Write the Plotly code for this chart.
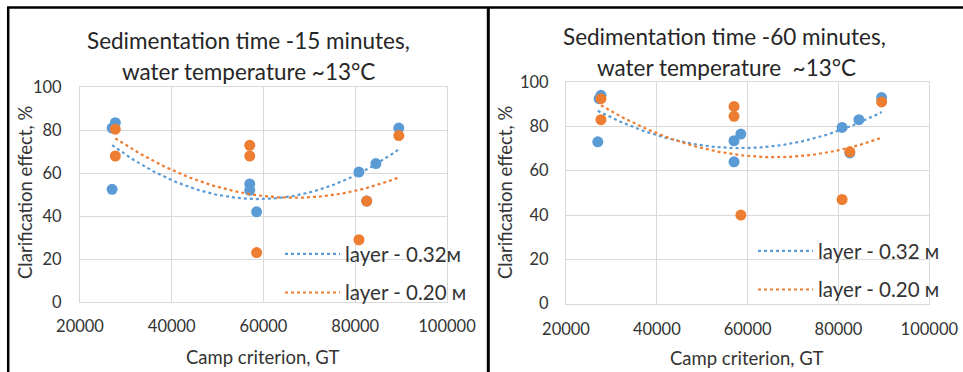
import numpy as np
import plotly.graph_objects as go

# ---- data ----
# Left panel: sedimentation 15 min
l_blue_x = [27000, 27000, 27700, 57000, 57000, 58500, 80800, 82500, 84500, 89500]
l_blue_y = [52.5, 81, 83.5, 55, 52, 42, 60.5, 47, 64.5, 81]
l_orange_x = [27700, 27700, 57000, 57000, 58500, 80800, 82500, 89500]
l_orange_y = [80.5, 68, 73, 68, 23, 29, 47, 77.5]
# Right panel: sedimentation 60 min
r_blue_x = [27000, 27300, 27700, 57000, 57000, 58500, 80800, 82500, 84500, 89500]
r_blue_y = [73, 92.5, 94, 73.5, 64, 76.5, 79.5, 68, 83, 93]
r_orange_x = [27700, 27700, 57000, 57000, 58500, 80800, 82500, 89500]
r_orange_y = [92.5, 83, 89, 84.5, 40, 47, 68.5, 91]

titles_left = ["Sedimentation time -15 minutes,", "water temperature ~13°C"]
titles_right = ["Sedimentation time -60 minutes,", "water temperature  ~13°C"]
legend_left = ["layer - 0.32м", "layer - 0.20 м"]
legend_right = ["layer - 0.32 м", "layer - 0.20 м"]
x_title = "Camp criterion, GT"
y_title = "Clarification effect, %"
x_ticks = [20000, 40000, 60000, 80000, 100000]
x_tick_text = ["20000", "40000", "60000", "80000", "100000"]
y_ticks = [0, 20, 40, 60, 80, 100]

BLUE = "#5B9BD5"
ORANGE = "#ED7D31"
FONT = "Lato"
W, H = 963, 372

fig = go.Figure()


def trend(x, y):
    c = np.polyfit(x, y, 2)
    xs = np.linspace(min(x), max(x), 120)
    return xs, np.polyval(c, xs)


panels = [
    ("x", "y", "legend", l_blue_x, l_blue_y, l_orange_x, l_orange_y, legend_left),
    ("x2", "y2", "legend2", r_blue_x, r_blue_y, r_orange_x, r_orange_y, legend_right),
]
for xa, ya, lg, bx, by, ox, oy, names in panels:
    for xx, yy, col in [(bx, by, BLUE), (ox, oy, ORANGE)]:
        fig.add_trace(go.Scatter(x=xx, y=yy, mode="markers", xaxis=xa, yaxis=ya,
                                 marker=dict(color=col, size=11), showlegend=False,
                                 hoverinfo="skip"))
    for i, (xx, yy, col) in enumerate([(bx, by, BLUE), (ox, oy, ORANGE)]):
        tx, ty = trend(xx, yy)
        fig.add_trace(go.Scatter(x=tx, y=ty, mode="lines", xaxis=xa, yaxis=ya,
                                 line=dict(color=col, width=2.2, dash="dot"),
                                 name=names[i], legend=lg, legendgroup=f"{lg}{i}",
                                 showlegend=True))

axis_common = dict(showgrid=True, gridcolor="#D9D9D9", gridwidth=1,
                   showline=True, linecolor="#D9D9D9", linewidth=1, mirror=True,
                   zeroline=False, ticks="outside", tickcolor="rgba(0,0,0,0)",
                   tickfont=dict(family=FONT, size=16.5, color="#333333"),
                   fixedrange=True)

fig.update_layout(
    width=W, height=H, margin=dict(l=0, r=0, t=0, b=0, autoexpand=False),
    paper_bgcolor="white", plot_bgcolor="white",
    xaxis=dict(domain=[80 / W, 447 / W], range=[20000, 100000], tickvals=x_ticks,
               ticktext=x_tick_text, ticklen=9, anchor="y", **axis_common),
    yaxis=dict(domain=[1 - 302 / H, 1 - 87.3 / H], range=[0, 100], tickvals=y_ticks,
               ticklen=14, anchor="x", **axis_common),
    xaxis2=dict(domain=[566 / W, 929.3 / W], range=[20000, 100000], tickvals=x_ticks,
                ticktext=x_tick_text, ticklen=10, anchor="y2", **axis_common),
    yaxis2=dict(domain=[1 - 303.7 / H, 1 - 82 / H], range=[0, 100], tickvals=y_ticks,
                ticklen=13, anchor="x2", **axis_common),
    legend=dict(x=280 / W, y=1 - 234 / H, xanchor="left", yanchor="top",
                bgcolor="rgba(0,0,0,0)", tracegroupgap=9, itemwidth=55,
                font=dict(family=FONT, size=20.5, color="#333333")),
    legend2=dict(x=753 / W, y=1 - 231 / H, xanchor="left", yanchor="top",
                 bgcolor="rgba(0,0,0,0)", tracegroupgap=9, itemwidth=55,
                 font=dict(family=FONT, size=20.5, color="#333333")),
    showlegend=True,
)

ann = []
tf = dict(family=FONT, size=22.5, color="#262626")
af = dict(family=FONT, size=18.5, color="#333333")
for txt, cx, cy in [(titles_left[0], 248, 40), (titles_left[1], 249, 71),
                    (titles_right[0], 724, 36), (titles_right[1], 726, 67)]:
    ann.append(dict(text=txt, x=cx / W, y=1 - cy / H, xref="paper", yref="paper",
                    xanchor="center", yanchor="middle", showarrow=False, font=tf))
for cx, cy in [(263, 357), (747, 358)]:
    ann.append(dict(text=x_title, x=cx / W, y=1 - cy / H, xref="paper", yref="paper",
                    xanchor="center", yanchor="middle", showarrow=False, font=af))
for cx, cy in [(25, 193), (505, 193)]:
    ann.append(dict(text=y_title, x=cx / W, y=1 - cy / H, xref="paper", yref="paper",
                    xanchor="center", yanchor="middle", showarrow=False, font=af,
                    textangle=-90))
fig.update_layout(annotations=ann)

# black frame around the panels
frame = dict(type="line", xref="paper", yref="paper", line=dict(color="black", width=2.5))
fig.update_layout(shapes=[
    dict(frame, x0=7 / W, x1=1, y0=1 - 7.5 / H, y1=1 - 7.5 / H),
    dict(frame, x0=8.2 / W, x1=8.2 / W, y0=0, y1=1 - 7.5 / H),
    dict(frame, x0=488.3 / W, x1=488.3 / W, y0=0, y1=1 - 7.5 / H, line=dict(color="black", width=3)),
])

fig.write_html("out.html")
